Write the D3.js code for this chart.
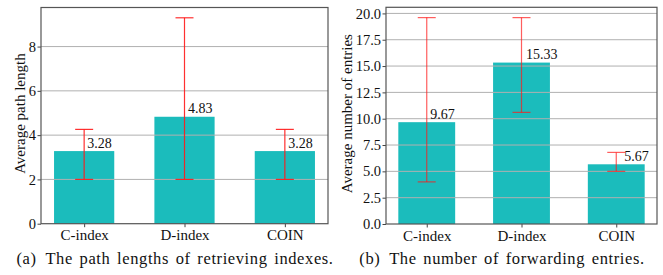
<!DOCTYPE html>
<html>
<head>
<meta charset="utf-8">
<script src="https://cdn.jsdelivr.net/npm/d3@7"></script>
<style>
  body { margin: 0; background: #fff; }
  svg { display: block; }
</style>
</head>
<body>
<svg></svg>
<script>
let categories = ['C-index', 'D-index', 'COIN']

// (a) path lengths
let pathMean = [3.28, 4.83, 3.28]
let pathLow = [2.0, 2.0, 2.0]
let pathHigh = [4.26, 9.3, 4.26]
let pathTicks = [0, 2, 4, 6, 8]

// (b) forwarding entries
let entryMean = [9.67, 15.33, 5.67]
let entryLow = [4.0, 10.6, 5.0]
let entryHigh = [19.6, 19.6, 6.8]
let entryTicks = [0, 2.5, 5, 7.5, 10, 12.5, 15, 17.5, 20]

let captions = ['(a)\u2002The path lengths of retrieving indexes.', '(b)\u2002The number of forwarding entries.']

let width = 663
let height = 275
let barColor = '#1bbcbc'
let serif = "'Liberation Serif', 'Times New Roman', serif"

let svg = d3.select('svg')
svg.attr('width', width).attr('height', height)

let drawPanel = (opt) => {
    let {left, right, top, bottom} = opt
    let n = categories.length
    let yMax = d3.max(opt.high) * 1.05

    let xScale = d3.scaleLinear()
                   .domain([-0.3 - 0.05 * (n - 0.4), n - 0.7 + 0.05 * (n - 0.4)])
                   .range([left, right])
    let yScale = d3.scaleLinear()
                   .domain([0, yMax])
                   .range([bottom, top])
    let step = xScale(1) - xScale(0)
    let barW = step * 0.6
    let capW = 9

    let g = svg.append('g')

    g.selectAll('rect.bar')
     .data(opt.mean)
     .enter()
     .append('rect')
     .attr('class', 'bar')
     .attr('x', (d, i) => xScale(i) - barW / 2)
     .attr('width', barW)
     .attr('y', d => yScale(d))
     .attr('height', d => bottom - yScale(d))
     .attr('fill', barColor)

    // grid above bars
    g.selectAll('line.grid')
     .data(opt.ticks.filter(t => t > 0))
     .enter()
     .append('line')
     .attr('x1', left).attr('x2', right)
     .attr('y1', d => yScale(d)).attr('y2', d => yScale(d))
     .attr('stroke', '#b0b0b0')
     .attr('stroke-width', 1)

    // error bars
    let eb = g.selectAll('g.err')
              .data(opt.mean)
              .enter()
              .append('g')
              .attr('stroke', '#ff1a1a')
              .attr('stroke-opacity', opt.errAlpha)
              .attr('stroke-width', 1.2)
    eb.append('line')
      .attr('x1', (d, i) => xScale(i)).attr('x2', (d, i) => xScale(i))
      .attr('y1', (d, i) => yScale(opt.low[i])).attr('y2', (d, i) => yScale(opt.high[i]))
    eb.append('line')
      .attr('x1', (d, i) => xScale(i) - capW).attr('x2', (d, i) => xScale(i) + capW)
      .attr('y1', (d, i) => yScale(opt.low[i])).attr('y2', (d, i) => yScale(opt.low[i]))
    eb.append('line')
      .attr('x1', (d, i) => xScale(i) - capW).attr('x2', (d, i) => xScale(i) + capW)
      .attr('y1', (d, i) => yScale(opt.high[i])).attr('y2', (d, i) => yScale(opt.high[i]))

    // value labels
    g.selectAll('text.val')
     .data(opt.mean)
     .enter()
     .append('text')
     .attr('x', (d, i) => xScale(i) + opt.labelDx[i])
     .attr('y', d => yScale(d) - 3.5)
     .style('font-family', serif)
     .style('font-size', '14px')
     .style('fill', '#111')
     .text(d => d.toFixed(2))

    // axes
    let yAxis = d3.axisLeft(yScale)
                  .tickValues(opt.ticks)
                  .tickFormat(opt.fmt)
                  .tickSize(3.5)
                  .tickPadding(1.5)
    let xAxis = d3.axisBottom(xScale)
                  .tickValues(d3.range(n))
                  .tickFormat(i => categories[i])
                  .tickSize(3.5)
                  .tickPadding(2.5)

    let ya = g.append('g')
              .attr('transform', 'translate(' + left + ', 0)')
              .call(yAxis)
    let xa = g.append('g')
              .attr('transform', 'translate(0, ' + bottom + ')')
              .call(xAxis)
    ;[ya, xa].forEach(a => {
        a.select('.domain').remove()
        a.selectAll('line').attr('stroke', '#444')
        a.selectAll('text')
         .style('font-family', serif)
         .style('font-size', a === ya ? '14.5px' : '15px')
         .style('fill', '#111')
    })

    g.append('rect')
     .attr('x', left).attr('y', top)
     .attr('width', right - left).attr('height', bottom - top)
     .attr('fill', 'none')
     .attr('stroke', '#555')
     .attr('stroke-width', 1.2)

    g.append('text')
     .attr('transform', 'translate(' + opt.ylabelX + ', ' + ((top + bottom) / 2 - 2) + ') rotate(-90)')
     .attr('text-anchor', 'middle')
     .style('font-family', serif)
     .style('font-size', '15px')
     .style('fill', '#111')
     .text(opt.ylabel)

    g.append('text')
     .attr('x', opt.captionX)
     .attr('y', 264)
     .attr('text-anchor', 'middle')
     .style('font-family', serif)
     .style('font-size', '16.5px')
     .style('letter-spacing', '0.6px')
     .style('word-spacing', '2px')
     .style('fill', '#111')
     .text(opt.caption)
}

drawPanel({
    left: 41, right: 328, top: 7.5, bottom: 223.7,
    mean: pathMean, low: pathLow, high: pathHigh, ticks: pathTicks,
    fmt: d3.format('d'), errAlpha: 0.9, labelDx: [3, 3.5, 3.5],
    ylabel: 'Average path length', ylabelX: 25,
    caption: captions[0], captionX: 175
})

drawPanel({
    left: 386, right: 657, top: 7.3, bottom: 224,
    mean: entryMean, low: entryLow, high: entryHigh, ticks: entryTicks,
    fmt: d3.format('.1f'), errAlpha: 0.7, labelDx: [3.5, 4.5, 8],
    ylabel: 'Average number of entries', ylabelX: 352,
    caption: captions[1], captionX: 502
})
</script>
</body>
</html>
